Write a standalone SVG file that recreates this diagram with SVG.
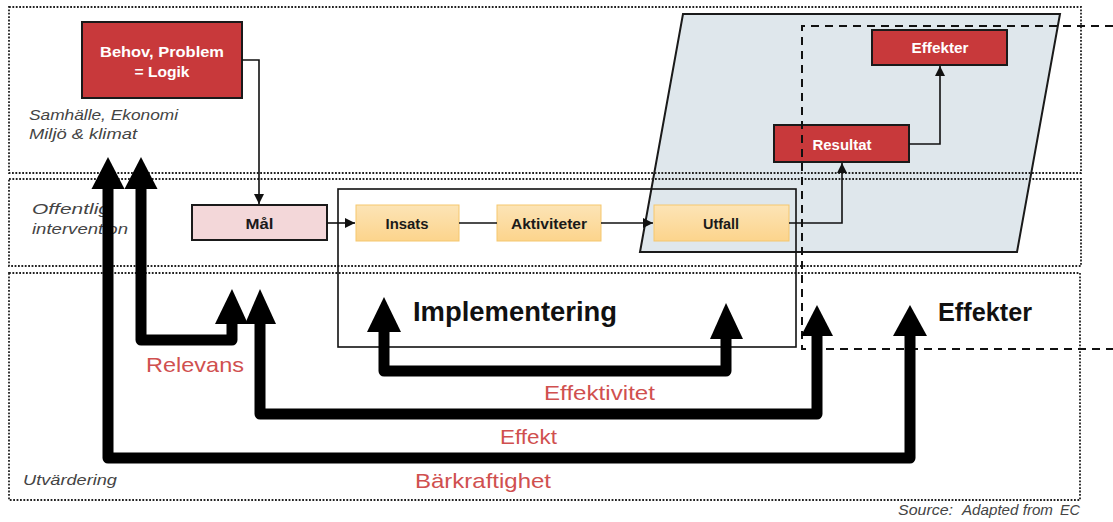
<svg xmlns="http://www.w3.org/2000/svg" width="1113" height="522" viewBox="0 0 1113 522">
  <defs>
    <linearGradient id="gOrange" x1="0" y1="0" x2="0" y2="1">
      <stop offset="0" stop-color="#FCE4B6"/>
      <stop offset="1" stop-color="#FCD48C"/>
    </linearGradient>
    <marker id="tip" viewBox="0 0 10 10" refX="10" refY="5" markerWidth="10" markerHeight="10" markerUnits="userSpaceOnUse" orient="auto">
      <path d="M0,0 L10,5 L0,10 Z" fill="#111"/>
    </marker>
    <style>
      .band { fill: none; stroke: #222; stroke-width: 1.8; stroke-dasharray: 1.8 1.6; }
      .red { fill: #C8393B; stroke: #1a1a1a; stroke-width: 2; }
      .pink { fill: #F3D7D9; stroke: #1a1a1a; stroke-width: 2; }
      .orange { fill: url(#gOrange); stroke: #F5C76E; stroke-width: 1; }
      .wlabel { font-family: "Liberation Sans", Arial, sans-serif; font-weight: bold; font-size: 15px; fill: #fff; text-anchor: middle; }
      .dlabel { font-family: "Liberation Sans", Arial, sans-serif; font-weight: bold; font-size: 15px; fill: #1a1a1a; text-anchor: middle; }
      .note { font-family: "Liberation Sans", Arial, sans-serif; font-style: italic; font-size: 15px; fill: #444; }
      .crit { font-family: "Liberation Sans", Arial, sans-serif; font-size: 21px; fill: #D0504F; }
      .head { font-family: "Liberation Sans", Arial, sans-serif; font-weight: bold; fill: #111; }
      .thin { fill: none; stroke: #111; stroke-width: 1.6; }
      .thick { fill: none; stroke: #000; stroke-width: 11; stroke-linejoin: round; }
      .ahead { fill: #000; }
    </style>
  </defs>

  <!-- outcome area (parallelogram) -->
  <polygon points="683,14 1060,14 1017,252 640,252" fill="#DFE7EC" stroke="#1a1a1a" stroke-width="2"/>

  <!-- dotted bands -->
  <rect class="band" x="9" y="7" width="1072" height="166"/>
  <rect class="band" x="9" y="179" width="1072" height="87"/>
  <rect class="band" x="9" y="273" width="1071" height="227"/>

  <!-- implementation frame -->
  <rect x="338" y="189" width="458" height="158" fill="none" stroke="#111" stroke-width="1.6"/>

  <!-- band labels -->
  <text class="note" x="29" y="120" textLength="149" lengthAdjust="spacingAndGlyphs">Samhälle, Ekonomi</text>
  <text class="note" x="29" y="139" textLength="108" lengthAdjust="spacingAndGlyphs">Miljö &amp; klimat</text>
  <text class="note" x="32" y="214" textLength="78" lengthAdjust="spacingAndGlyphs">Offentlig</text>
  <text class="note" x="32" y="234" textLength="96" lengthAdjust="spacingAndGlyphs">intervention</text>
  <text class="note" x="23" y="485" textLength="94" lengthAdjust="spacingAndGlyphs">Utvärdering</text>
  <text class="note" x="898" y="515"><tspan x="898" textLength="55" lengthAdjust="spacingAndGlyphs">Source:</tspan><tspan x="962" textLength="91" lengthAdjust="spacingAndGlyphs">Adapted from</tspan><tspan x="1060" textLength="20" lengthAdjust="spacingAndGlyphs">EC</tspan></text>

  <!-- nodes -->
  <g id="behov">
    <rect class="red" x="82" y="22" width="160" height="76"/>
    <text class="wlabel" x="162" y="57" textLength="124" lengthAdjust="spacingAndGlyphs">Behov, Problem</text>
    <text class="wlabel" x="162" y="77" textLength="55" lengthAdjust="spacingAndGlyphs">= Logik</text>
  </g>
  <g id="mal">
    <rect class="pink" x="192" y="205" width="135" height="35"/>
    <text class="dlabel" x="259.5" y="229" textLength="28" lengthAdjust="spacingAndGlyphs">Mål</text>
  </g>
  <g id="insats">
    <rect class="orange" x="356" y="205" width="103" height="36"/>
    <text class="dlabel" x="407" y="229" textLength="43" lengthAdjust="spacingAndGlyphs">Insats</text>
  </g>
  <g id="aktiviteter">
    <rect class="orange" x="497" y="205" width="104" height="36"/>
    <text class="dlabel" x="549" y="229" textLength="76" lengthAdjust="spacingAndGlyphs">Aktiviteter</text>
  </g>
  <g id="utfall">
    <rect class="orange" x="654" y="205" width="135" height="36"/>
    <text class="dlabel" x="721" y="229" textLength="36" lengthAdjust="spacingAndGlyphs">Utfall</text>
  </g>
  <g id="resultat">
    <rect class="red" x="774" y="125" width="135" height="37"/>
    <text class="wlabel" x="842" y="150" textLength="59" lengthAdjust="spacingAndGlyphs">Resultat</text>
  </g>
  <g id="effekter">
    <rect class="red" x="872" y="30" width="135" height="35"/>
    <text class="wlabel" x="940" y="53" textLength="57" lengthAdjust="spacingAndGlyphs">Effekter</text>
  </g>

  <!-- effects boundary (dashed) -->
  <path d="M1113,26 H802 V349 H1113" fill="none" stroke="#111" stroke-width="2" stroke-dasharray="8 6"/>

  <!-- connectors -->
  <g id="connectors">
    <path class="thin" d="M242,60 H259 V204" marker-end="url(#tip)"/>
    <path class="thin" d="M327,223 H355" marker-end="url(#tip)"/>
    <path class="thin" d="M459,223 H497"/>
    <path class="thin" d="M601,223 H653" marker-end="url(#tip)"/>
    <path class="thin" d="M789,223 H842 V163" marker-end="url(#tip)"/>
    <path class="thin" d="M909,144 H940 V66" marker-end="url(#tip)"/>
  </g>

  <!-- evaluation criteria loops -->
  <g id="evaluation">
    <!-- Bärkraftighet -->
    <path class="thick" d="M108,186 V458 H910 V333"/>
    <polygon class="ahead" points="108,157 124.5,189 91.5,189"/>
    <polygon class="ahead" points="910,305 927,336 893,336"/>
    <!-- Relevans -->
    <path class="thick" d="M141,186 V340 H232 V321"/>
    <polygon class="ahead" points="141,157 157.5,189 124.5,189"/>
    <polygon class="ahead" points="232,289 248,324 215,324"/>
    <!-- Effekt -->
    <path class="thick" d="M260,321 V414 H817 V333"/>
    <polygon class="ahead" points="260,289 276,324 245,324"/>
    <polygon class="ahead" points="817,305 833,336 801,336"/>
    <!-- Effektivitet -->
    <path class="thick" d="M384,329 V371 H726 V336"/>
    <polygon class="ahead" points="384,297 401,332 367,332"/>
    <polygon class="ahead" points="726,303 743,339 710,339"/>
  </g>

  <!-- headings and criteria labels -->
  <text class="head" x="413" y="321" font-size="27" textLength="204" lengthAdjust="spacingAndGlyphs">Implementering</text>
  <text class="head" x="938" y="321" font-size="25" textLength="94" lengthAdjust="spacingAndGlyphs">Effekter</text>
  <text class="crit" x="146" y="372" textLength="98" lengthAdjust="spacingAndGlyphs">Relevans</text>
  <text class="crit" x="544" y="400" textLength="111" lengthAdjust="spacingAndGlyphs">Effektivitet</text>
  <text class="crit" x="500" y="444" textLength="57" lengthAdjust="spacingAndGlyphs">Effekt</text>
  <text class="crit" x="415" y="488" textLength="136" lengthAdjust="spacingAndGlyphs">Bärkraftighet</text>
</svg>
